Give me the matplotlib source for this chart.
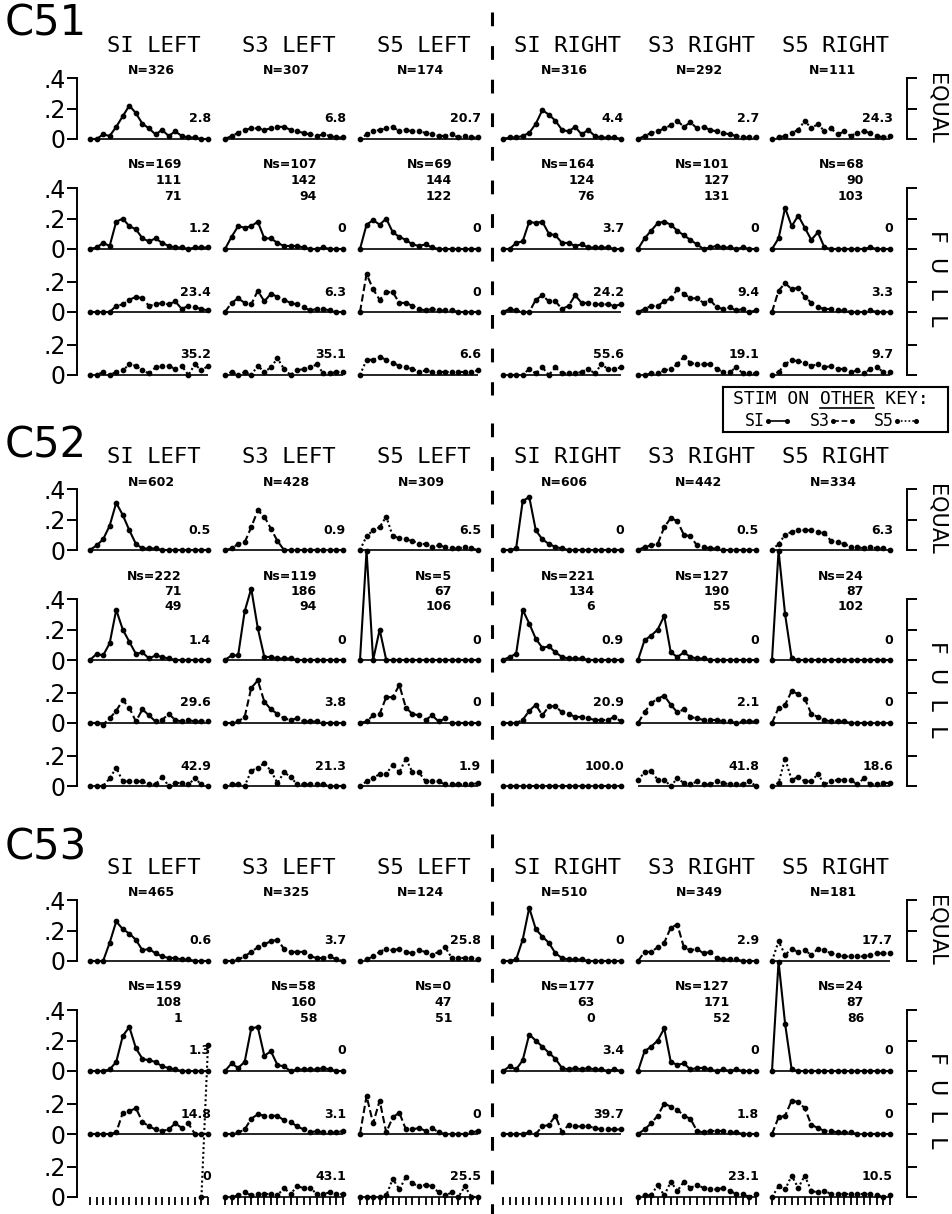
import numpy as np
import matplotlib
matplotlib.use("Agg")
import matplotlib.pyplot as plt

nan = np.nan

# ---------------------------------------------------------------- data
subjects = ["C51", "C52", "C53"]
columns = ["SI LEFT", "S3 LEFT", "S5 LEFT", "SI RIGHT", "S3 RIGHT", "S5 RIGHT"]
row_names = ["EQUAL", "F  U  L  L"]
key_names = ["SI", "S3", "S5"]

# C51 -- one list per column, 19 bins each
c51_equal = [
    [0, 0, 0.03, 0.02, 0.08, 0.15, 0.22, 0.17, 0.1, 0.07, 0.03, 0.06, 0.02, 0.05, 0.02, 0.01, 0.01, 0, 0],
    [0, 0.02, 0.04, 0.06, 0.07, 0.07, 0.06, 0.07, 0.08, 0.08, 0.06, 0.05, 0.04, 0.03, 0.02, 0.03, 0.02, 0.01, 0.01],
    [0, 0.03, 0.05, 0.06, 0.07, 0.08, 0.05, 0.06, 0.05, 0.05, 0.04, 0.03, 0.02, 0.02, 0.03, 0.01, 0.02, 0.01, 0.01],
    [0, 0.01, 0.01, 0.02, 0.04, 0.1, 0.19, 0.16, 0.12, 0.06, 0.05, 0.08, 0.03, 0.06, 0.02, 0.01, 0.01, 0.01, 0],
    [0, 0.02, 0.04, 0.05, 0.07, 0.09, 0.12, 0.08, 0.11, 0.07, 0.08, 0.06, 0.05, 0.04, 0.03, 0.02, 0.01, 0.01, 0.01],
    [0, 0.01, 0.02, 0.04, 0.06, 0.12, 0.07, 0.1, 0.05, 0.07, 0.03, 0.05, 0.02, 0.04, 0.05, 0.04, 0.02, 0.01, 0.02],
]
c51_s1 = [
    [0, 0.01, 0.04, 0.02, 0.18, 0.2, 0.15, 0.13, 0.07, 0.05, 0.07, 0.04, 0.02, 0.01, 0.01, 0, 0.01, 0.01, 0.01],
    [0, 0.08, 0.15, 0.14, 0.15, 0.18, 0.07, 0.07, 0.04, 0.02, 0.02, 0.02, 0.01, 0, 0, 0.01, 0, 0, 0],
    [0, 0.16, 0.19, 0.16, 0.2, 0.11, 0.08, 0.06, 0.03, 0.02, 0.03, 0.01, 0, 0, 0, 0, 0, 0, 0],
    [0, 0, 0.04, 0.05, 0.18, 0.17, 0.18, 0.1, 0.09, 0.04, 0.04, 0.02, 0.03, 0.01, 0.01, 0.01, 0.01, 0, 0],
    [0, 0.07, 0.12, 0.17, 0.18, 0.16, 0.12, 0.09, 0.06, 0.03, 0, 0.01, 0.02, 0.01, 0.01, 0, 0.01, 0, 0],
    [0, 0.07, 0.27, 0.15, 0.22, 0.14, 0.06, 0.11, 0.01, 0, 0, 0, 0, 0, 0, 0.01, 0, 0, 0],
]
c51_s3 = [
    [0, 0, 0, 0, 0.04, 0.05, 0.08, 0.1, 0.09, 0.04, 0.05, 0.06, 0.05, 0.07, 0.02, 0.04, 0.03, 0.02, 0.01],
    [0, 0.06, 0.09, 0.06, 0.05, 0.14, 0.07, 0.12, 0.1, 0.08, 0.06, 0.05, 0.03, 0.01, 0.02, 0.02, 0.01, 0, 0],
    [0, 0.25, 0.15, 0.08, 0.13, 0.13, 0.06, 0.06, 0.04, 0.02, 0.01, 0.02, 0.01, 0.01, 0.01, 0, 0, 0, 0],
    [0, 0.02, 0.01, 0, 0, 0.08, 0.11, 0.07, 0.07, 0.02, 0.04, 0.11, 0.06, 0.06, 0.05, 0.05, 0.05, 0.04, 0.05],
    [0, 0.02, 0.04, 0.04, 0.07, 0.09, 0.15, 0.12, 0.09, 0.09, 0.06, 0.08, 0.03, 0.02, 0.03, 0.01, 0.02, 0, 0.01],
    [0, 0.14, 0.19, 0.15, 0.16, 0.1, 0.06, 0.03, 0.02, 0.02, 0.01, 0.01, 0, 0, 0, 0.01, 0, 0, 0],
]
c51_s5 = [
    [0, 0, 0.02, 0, 0.02, 0.03, 0.07, 0.06, 0.03, 0.01, 0.05, 0.06, 0.06, 0.04, 0.06, 0, 0.07, 0.03, 0.06],
    [0, 0.02, 0, 0.02, 0, 0.06, 0.02, 0.05, 0.11, 0.04, 0, 0.03, 0.04, 0.05, 0.07, 0.01, 0.01, 0.02, 0.02],
    [0, 0.1, 0.1, 0.12, 0.1, 0.08, 0.06, 0.05, 0.04, 0.02, 0.03, 0.02, 0.02, 0.02, 0.02, 0.02, 0.02, 0.02, 0.03],
    [0, 0, 0, 0, 0.04, 0.01, 0.05, 0, 0.05, 0.01, 0.01, 0.01, 0.02, 0.04, 0.01, 0.07, 0.04, 0.04, 0.05],
    [0, 0, 0.01, 0.01, 0.03, 0.04, 0.07, 0.12, 0.08, 0.07, 0.07, 0.07, 0.04, 0.02, 0.02, 0.05, 0.01, 0.01, 0.01],
    [0, 0.02, 0.07, 0.1, 0.09, 0.08, 0.06, 0.07, 0.05, 0.06, 0.04, 0.04, 0.02, 0.03, 0.01, 0.04, 0.05, 0.02, 0.02],
]
c51_pct = [["2.8", "6.8", "20.7", "4.4", "2.7", "24.3"],
           ["1.2", "0", "0", "3.7", "0", "0"],
           ["23.4", "6.3", "0", "24.2", "9.4", "3.3"],
           ["35.2", "35.1", "6.6", "55.6", "19.1", "9.7"]]
c51_n = [326, 307, 174, 316, 292, 111]
c51_ns = [[169, 111, 71], [107, 142, 94], [69, 144, 122],
          [164, 124, 76], [101, 127, 131], [68, 90, 103]]

# C52
c52_equal = [
    [0, 0.03, 0.07, 0.16, 0.31, 0.23, 0.13, 0.04, 0.01, 0.01, 0.01, 0, 0, 0, 0, 0, 0, 0, 0],
    [0, 0.01, 0.04, 0.05, 0.15, 0.26, 0.22, 0.14, 0.06, 0, 0, 0, 0, 0, 0, 0, 0, 0, 0],
    [0, 0.09, 0.13, 0.15, 0.22, 0.09, 0.08, 0.07, 0.06, 0.04, 0.04, 0.02, 0.03, 0.02, 0.01, 0.01, 0.02, 0.01, 0],
    [0, 0, 0.01, 0.32, 0.35, 0.13, 0.07, 0.04, 0.02, 0.01, 0, 0, 0, 0, 0, 0, 0, 0, 0],
    [0, 0.02, 0.03, 0.04, 0.15, 0.21, 0.19, 0.1, 0.09, 0.03, 0.02, 0.01, 0.01, 0, 0, 0, 0, 0, 0],
    [0, 0.04, 0.1, 0.12, 0.13, 0.13, 0.13, 0.12, 0.11, 0.06, 0.05, 0.04, 0.02, 0.02, 0.01, 0.02, 0.01, 0.01, 0],
]
c52_s1 = [
    [0, 0.04, 0.03, 0.11, 0.33, 0.2, 0.12, 0.04, 0.05, 0.01, 0.03, 0.02, 0.01, 0, 0, 0, 0, 0, 0],
    [0, 0.03, 0.03, 0.32, 0.47, 0.21, 0.02, 0.02, 0.01, 0.01, 0.01, 0, 0, 0, 0, 0, 0, 0, 0],
    [0, 0.72, 0, 0.2, 0, 0, 0, 0, 0, 0, 0, 0, 0, 0, 0, 0, 0, 0, 0],
    [0, 0.02, 0.04, 0.33, 0.24, 0.14, 0.08, 0.09, 0.05, 0.02, 0.01, 0.01, 0.01, 0, 0, 0, 0, 0, 0],
    [0, 0.13, 0.16, 0.2, 0.29, 0.05, 0.02, 0.05, 0.02, 0.01, 0.01, 0, 0, 0, 0, 0, 0, 0, 0],
    [0, 0.72, 0.3, 0.01, 0, 0, 0, 0, 0, 0, 0, 0, 0, 0, 0, 0, 0, 0, 0],
]
c52_s3 = [
    [0, 0, -0.01, 0.03, 0.08, 0.15, 0.1, 0.01, 0.09, 0.05, 0.01, 0.02, 0.06, 0.02, 0.01, 0.02, 0.01, 0.01, 0.01],
    [0, 0, 0.01, 0.04, 0.23, 0.28, 0.14, 0.09, 0.06, 0.03, 0.02, 0.03, 0.01, 0.01, 0.01, 0, 0, 0, 0],
    [0, 0.01, 0.05, 0.06, 0.17, 0.17, 0.25, 0.1, 0.06, 0.05, 0.02, 0.05, 0.01, 0.03, 0, 0, 0, 0, 0],
    [0, 0, 0, 0.02, 0.08, 0.12, 0.05, 0.11, 0.11, 0.07, 0.06, 0.04, 0.04, 0.03, 0.02, 0.02, 0.02, 0.04, 0.01],
    [0, 0.07, 0.13, 0.16, 0.18, 0.12, 0.07, 0.09, 0.04, 0.03, 0.02, 0.02, 0.02, 0.01, 0.01, 0, 0.01, 0.01, 0.01],
    [0, 0.1, 0.12, 0.21, 0.19, 0.16, 0.06, 0.04, 0.02, 0.01, 0.01, 0.01, 0, 0, 0, 0, 0, 0, 0],
]
c52_s5 = [
    [0, 0, 0, 0.05, 0.12, 0.03, 0.03, 0.03, 0.03, 0.01, 0.01, 0.06, 0, 0.02, 0.02, 0.01, 0.05, 0.01, 0],
    [0, 0.01, 0.01, 0, 0.1, 0.12, 0.15, 0.1, 0.02, 0.09, 0.06, 0.01, 0.01, 0.01, 0.01, 0.01, 0, 0, 0],
    [0, 0.03, 0.05, 0.08, 0.08, 0.14, 0.09, 0.18, 0.09, 0.09, 0.03, 0.03, 0.03, 0.01, 0.01, 0.01, 0.01, 0.01, 0.02],
    [0, 0, 0, 0, 0, 0, 0, 0, 0, 0, 0, 0, 0, 0, 0, 0, 0, 0, 0],
    [0.04, 0.09, 0.1, 0.04, 0.04, 0, 0.05, 0.02, 0.01, 0.03, 0.01, 0.01, 0.03, 0.02, 0.01, 0.01, 0.01, 0.03, 0],
    [0, 0.02, 0.18, 0.04, 0.06, 0.03, 0.03, 0.08, 0.01, 0.03, 0.04, 0.04, 0.04, 0.01, 0.05, 0.01, 0.01, 0.02, 0.02],
]
c52_pct = [["0.5", "0.9", "6.5", "0", "0.5", "6.3"],
           ["1.4", "0", "0", "0.9", "0", "0"],
           ["29.6", "3.8", "0", "20.9", "2.1", "0"],
           ["42.9", "21.3", "1.9", "100.0", "41.8", "18.6"]]
c52_n = [602, 428, 309, 606, 442, 334]
c52_ns = [[222, 71, 49], [119, 186, 94], [5, 67, 106],
          [221, 134, 6], [127, 190, 55], [24, 87, 102]]

# C53  (None = no curve drawn, nan = bin not plotted)
c53_equal = [
    [0, 0, 0, 0.12, 0.26, 0.21, 0.18, 0.14, 0.07, 0.08, 0.05, 0.03, 0.02, 0.02, 0.01, 0.01, 0, 0, 0],
    [0, 0, 0.01, 0.03, 0.06, 0.09, 0.11, 0.13, 0.14, 0.08, 0.06, 0.06, 0.06, 0.03, 0.02, 0.02, 0.03, 0.01, 0],
    [0, 0.01, 0.03, 0.06, 0.08, 0.07, 0.08, 0.06, 0.05, 0.07, 0.06, 0.04, 0.06, 0.09, 0.02, 0.02, 0.02, 0.02, 0.01],
    [0, 0, 0.01, 0.14, 0.35, 0.21, 0.16, 0.12, 0.05, 0.02, 0.01, 0.01, 0.01, 0, 0, 0, 0, 0, 0],
    [0, 0.06, 0.06, 0.09, 0.12, 0.22, 0.24, 0.09, 0.07, 0.08, 0.05, 0.06, 0.02, 0.01, 0.01, 0.01, 0, 0, 0],
    [0, 0.13, 0.04, 0.08, 0.06, 0.07, 0.04, 0.08, 0.07, 0.05, 0.04, 0.03, 0.03, 0.03, 0.03, 0.04, 0.05, 0.05, 0.05],
]
c53_s1 = [
    [0, 0, 0, 0.01, 0.06, 0.23, 0.29, 0.15, 0.08, 0.07, 0.06, 0.03, 0.02, 0.01, 0, 0, 0, 0, 0],
    [0, 0.05, 0.02, 0.06, 0.28, 0.29, 0.1, 0.13, 0.04, 0.03, 0, 0.01, 0.01, 0.01, 0.01, 0.02, 0.01, 0, 0],
    None,
    [0, 0.03, 0.01, 0.07, 0.24, 0.2, 0.16, 0.12, 0.08, 0.02, 0.01, 0.02, 0.01, 0.02, 0.01, 0.01, 0, 0.01, 0],
    [0, 0.13, 0.16, 0.2, 0.28, 0.06, 0.04, 0.05, 0.01, 0.02, 0.02, 0.01, 0, 0.01, 0, 0.01, 0, 0, 0],
    [0, 0.72, 0.31, 0.01, 0, 0, 0, 0, 0, 0, 0, 0, 0, 0, 0, 0, 0, 0, 0],
]
c53_s3 = [
    [0, 0, 0, 0, 0.01, 0.14, 0.15, 0.17, 0.08, 0.05, 0.03, 0.02, 0.03, 0.07, 0.04, 0.07, 0, 0, 0],
    [0, 0, 0.01, 0.03, 0.1, 0.13, 0.12, 0.12, 0.12, 0.09, 0.08, 0.05, 0.03, 0.01, 0.02, 0.01, 0.01, 0.01, 0.02],
    [0, 0.25, 0.07, 0.22, 0.01, 0.11, 0.14, 0.03, 0.03, 0.04, 0.02, 0.04, 0.01, 0, 0, 0, 0, 0.01, 0.02],
    [0, 0, 0, 0, 0.01, 0, 0.05, 0.06, 0.12, 0.01, 0.06, 0.05, 0.05, 0.05, 0.04, 0.03, 0.03, 0.03, 0.03],
    [0, 0.03, 0.07, 0.12, 0.2, 0.18, 0.16, 0.12, 0.1, 0.02, 0.01, 0.02, 0.02, 0.02, 0.01, 0.01, 0, 0, 0],
    [0, 0.11, 0.12, 0.22, 0.21, 0.17, 0.06, 0.04, 0.02, 0.02, 0.01, 0.01, 0.01, 0, 0, 0, 0, 0, 0],
]
c53_s5 = [
    [nan, nan, nan, nan, nan, nan, nan, nan, nan, nan, nan, nan, nan, nan, nan, nan, nan, 0, 1.0],
    [0, 0, 0.01, 0.03, 0.01, 0.02, 0.02, 0.02, 0.01, 0.06, 0.02, 0.07, 0.06, 0.06, 0.02, 0.02, 0.03, 0.02, 0.02],
    [0, 0, 0, 0, 0.01, 0.12, 0.05, 0.13, 0.09, 0.07, 0.08, 0.07, 0.03, 0.01, 0.03, 0, 0.07, 0, 0],
    None,
    [0, 0.01, 0.01, 0.08, 0.01, 0.1, 0.04, 0.1, 0.06, 0.08, 0.06, 0.05, 0.05, 0.06, 0.04, 0.02, 0.02, 0, 0.02],
    [0, 0.07, 0.05, 0.14, 0.06, 0.14, 0.04, 0.03, 0.04, 0.02, 0.02, 0.02, 0.02, 0.02, 0.02, 0.02, 0.01, 0, 0.01],
]
c53_pct = [["0.6", "3.7", "25.8", "0", "2.9", "17.7"],
           ["1.3", "0", "", "3.4", "0", "0"],
           ["14.8", "3.1", "0", "39.7", "1.8", "0"],
           ["0", "43.1", "25.5", "", "23.1", "10.5"]]
c53_n = [465, 325, 124, 510, 349, 181]
c53_ns = [[159, 108, 1], [58, 160, 58], [0, 47, 51],
          [177, 63, 0], [127, 171, 52], [24, 87, 86]]

blocks = [
    (c51_equal, c51_s1, c51_s3, c51_s5, c51_pct, c51_n, c51_ns),
    (c52_equal, c52_s1, c52_s3, c52_s5, c52_pct, c52_n, c52_ns),
    (c53_equal, c53_s1, c53_s3, c53_s5, c53_pct, c53_n, c53_ns),
]

# ---------------------------------------------------------------- layout
W, H = 952, 1214
S = 152.0                       # pixels per unit of proportion
col_x0 = [90, 225, 360, 503, 638, 772]
col_w = 118
block_y = [139, 550, 961]       # EQUAL baseline of each subject
row_dy = [0, 110, 173, 236]     # baselines: EQUAL, other key S1, S3, S5
c_label_dy = [-116, -105, -114]

SOLID = "-"
DASHED = (0, (3.5, 1.6))
DOTTED = (0, (1, 1.3))
key_styles = [SOLID, DASHED, DOTTED]

plt.rcParams["font.family"] = "DejaVu Sans"
fig = plt.figure(figsize=(W / 100, H / 100), dpi=100, facecolor="white")


def px_axes(x, top, w, h):
    return fig.add_axes([x / W, 1 - (top + h) / H, w / W, h / H])


def px_text(x, y, s, **kw):
    fig.text(x / W, 1 - y / H, s, **kw)


def draw_panel(x0, base, values, style, label, ticks=False):
    ax = px_axes(x0, base - 56, col_w, 66)
    ax.set_xlim(0, 18)
    ax.set_ylim(-10 / S, 56 / S)
    ax.patch.set_visible(False)
    for sp in ax.spines.values():
        sp.set_visible(False)
    ax.set_yticks([])
    if ticks:
        ax.spines["bottom"].set_position(("data", 0))
        ax.set_xticks(np.arange(19))
        ax.tick_params(axis="x", length=6, width=1.3, direction="out",
                       labelbottom=False)
    else:
        ax.set_xticks([])
    if values is not None:
        v = np.asarray(values, dtype=float)
        x = np.arange(len(v))
        ok = np.isfinite(v)
        ax.hlines(0, x[ok][0], x[ok][-1], color="black", lw=1.2)
        ax.plot(x, v, ls=style, lw=1.5, color="black", marker="o", ms=3.1,
                clip_on=False)
    if label:
        px_text(x0 + 121, base - 20, label, ha="right", va="center",
                fontsize=9, fontweight="bold")


def draw_scale(x, top, bottom, ticks, labels, left):
    ax = px_axes(x, top, 1, bottom - top)
    ax.set_ylim(0, (bottom - top) / S)
    ax.patch.set_visible(False)
    for name, sp in ax.spines.items():
        sp.set_visible(name == "left")
    ax.spines["left"].set_linewidth(1.4)
    ax.set_xticks([])
    ax.set_yticks(ticks)
    if left:
        ax.set_yticklabels(labels)
        ax.tick_params(axis="y", direction="out", length=7, width=1.4,
                       labelsize=17, pad=1)
    else:
        ax.tick_params(axis="y", direction="in", length=7, width=1.4,
                       labelleft=False)


for b, (equal, s1, s3, s5, pct, n_eq, n_full) in enumerate(blocks):
    base = block_y[b]
    rows = [equal, s1, s3, s5]

    px_text(5, base + c_label_dy[b], subjects[b], ha="left", va="center",
            fontsize=30)

    for c in range(6):
        x0 = col_x0[c]
        px_text(x0 + 64, base - 93, columns[c], ha="center", va="center",
                fontsize=16, family="DejaVu Sans Mono")
        px_text(x0 + 61, base - 68, f"N={n_eq[c]}", ha="center", va="center",
                fontsize=9, fontweight="bold")
        for k, n in enumerate(n_full[c]):
            s = f"Ns={n}" if k == 0 else str(n)
            px_text(x0 + 92, base + 26 + 15.5 * k, s, ha="right",
                    va="center", fontsize=9, fontweight="bold")
        for r in range(4):
            style = key_styles[c % 3] if r == 0 else key_styles[r - 1]
            draw_panel(x0, base + row_dy[r], rows[r][c], style, pct[r][c],
                       ticks=(b == 2 and r == 3))

    # scales: EQUAL bracket and FULL bracket, left with labels, right bare
    eq_top = base - 0.4 * S
    eq_ticks = [0, 0.2, 0.4]
    full_top = base + row_dy[1] - 0.4 * S
    full_bot = base + row_dy[3]
    full_ticks, full_labels = [], []
    for r in (3, 2, 1):
        off = (row_dy[3] - row_dy[r]) / S
        full_ticks += [off, off + 0.2]
        full_labels += ["0", ".2"]
    full_ticks.append((row_dy[3] - row_dy[1]) / S + 0.4)
    full_labels.append(".4")
    for x, left in ((77, True), (907, False)):
        draw_scale(x, eq_top, base, eq_ticks, ["0", ".2", ".4"], left)
        draw_scale(x, full_top, full_bot, full_ticks, full_labels, left)

    px_text(937, base - 31, row_names[0], rotation=270, ha="center",
            va="center", fontsize=15)
    px_text(937, base + 139, row_names[1], rotation=270, ha="center",
            va="center", fontsize=16)

    # dashed divider between LEFT and RIGHT keys
    fig.add_artist(plt.Line2D([492 / W, 492 / W],
                              [1 - (base - 127) / H, 1 - (base + 256) / H],
                              color="black", lw=2.2, ls=(0, (4.5, 6.5))))

# key box: STIM ON OTHER KEY
kax = px_axes(723, 387, 225, 45)
kax.set_xlim(723, 948)
kax.set_ylim(432, 387)
kax.set_xticks([])
kax.set_yticks([])
for sp in kax.spines.values():
    sp.set_linewidth(1.5)
fs = 13
cw = 0.602 * fs * 100 / 72
kax.text(733, 399, "STIM ON OTHER KEY:", ha="left", va="center",
         fontsize=fs, family="DejaVu Sans Mono")
kax.plot([733 + 8 * cw, 733 + 13 * cw], [408, 408], color="black", lw=1.2)
key_x = [745, 810, 874]
for name, style, kx in zip(key_names, key_styles, key_x):
    kax.text(kx, 421, name, ha="left", va="center", fontsize=12,
             family="DejaVu Sans Mono")
    x_a = kx + 2 * 0.602 * 12 * 100 / 72 + 3
    kax.plot([x_a, x_a + 19], [421, 421], ls=style, lw=1.2, color="black",
             marker="o", ms=2.6)

fig.savefig("out.png", dpi=100, facecolor="white")
